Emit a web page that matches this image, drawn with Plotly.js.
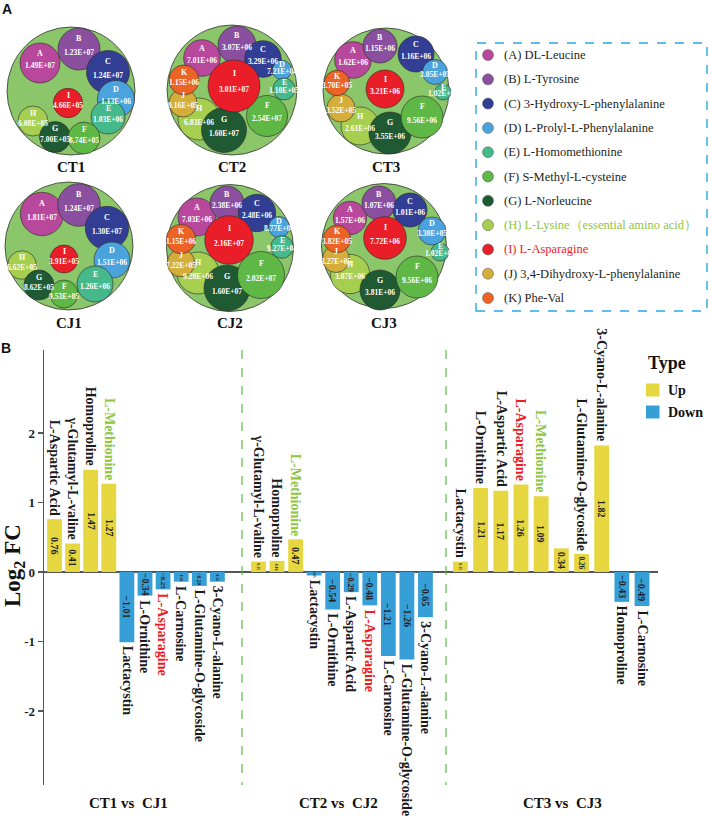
<!DOCTYPE html>
<html><head><meta charset="utf-8">
<script src="https://cdn.plot.ly/plotly-3.0.1.min.js"></script>
<style>body{margin:0;background:#fff}#chart{width:709px;height:822px}</style>
</head><body><div id="chart"></div>
<script>
// ---------------- DATA ----------------
// Panel A
const packNames = ["CT1","CT2","CT3","CJ1","CJ2","CJ3"];
const letters = ["A","B","C","D","E","F","G","H","I","J","K"];
const compounds = ["DL-Leucine","L-Tyrosine","3-Hydroxy-L-phenylalanine","L-Prolyl-L-Phenylalanine","L-Homomethionine","S-Methyl-L-cysteine","L-Norleucine","L-Lysine（essential amino acid）","L-Asparagine","3,4-Dihydroxy-L-phenylalanine","Phe-Val"];
const valsCT1 = [1.49e7,1.23e7,1.24e7,1.13e6,1.03e6,8.74e5,7.00e5,6.08e5,4.66e5,null,null];
const valsCT2 = [7.01e6,3.07e6,3.29e6,7.21e4,1.10e5,2.54e7,1.60e7,6.83e6,3.01e7,9.16e5,1.15e6];
const valsCT3 = [1.62e6,1.15e6,1.16e6,3.05e5,1.02e4,9.56e6,3.55e6,2.61e6,3.21e6,3.52e5,3.70e5];
const valsCJ1 = [1.81e7,1.24e7,1.30e7,1.51e6,1.26e6,9.53e5,8.62e5,6.62e5,3.91e5,null,null];
const valsCJ2 = [7.03e6,2.38e6,2.48e6,8.77e4,9.27e4,2.02e7,1.60e7,9.28e6,2.16e7,7.22e5,1.15e6];
const valsCJ3 = [1.57e6,1.07e6,1.01e6,3.30e5,1.02e4,9.56e6,3.81e6,3.07e6,7.72e6,3.27e5,3.82e5];

// Panel B
const groupLabels = ["CT1 vs\u00A0 CJ1","CT2 vs\u00A0 CJ2","CT3 vs\u00A0 CJ3"];
const names1 = ["L-Aspartic Acid","γ-Glutamyl-L-valine","Homoproline","L-Methionine","Lactacystin","L-Ornithine","L-Asparagine","L-Carnosine","L-Glutamine-O-glycoside","3-Cyano-L-alanine"];
const vals1 = [0.76,0.41,1.47,1.27,-1.01,-0.34,-0.25,-0.14,-0.20,-0.14];
const names2 = ["γ-Glutamyl-L-valine","Homoproline","L-Methionine","Lactacystin","L-Ornithine","L-Aspartic Acid","L-Asparagine","L-Carnosine","L-Glutamine-O-glycoside","3-Cyano-L-alanine"];
const vals2 = [0.15,0.16,0.47,-0.05,-0.54,-0.29,-0.48,-1.21,-1.26,-0.65];
const names3 = ["Lactacystin","L-Ornithine","L-Aspartic Acid","L-Asparagine","L-Methionine","","L-Glutamine-O-glycoside","3-Cyano-L-alanine","Homoproline","L-Carnosine"];
const vals3 = [0.15,1.21,1.17,1.26,1.09,0.34,0.26,1.82,-0.43,-0.49];
const yTicks = [-2,-1,0,1,2];
const yTickText = ["-2","-1","0","1","2"];
const typeNames = ["Up","Down"];

// ---------------- LAYOUT / STYLE ----------------
const W = 709, H = 822;
const FONT = "Liberation Serif";
const P = x => x / W, Q = y => 1 - y / H;
const circleColors = ["#B8489C","#8A4F9F","#323E94","#4BA3DE","#45B98B","#5FB745","#1F5A32","#A6CE4F","#E91E29","#D4AD3A","#EC6425"];
const outerColor = "#8CC66B";
const upColor = "#E6D640", downColor = "#379FD8";
const nameColor = n => n === "L-Methionine" ? "#8DC63F" : (n === "L-Asparagine" ? "#ED1C24" : "#1a1a1a");

// pack centre + radius (px)
const packGeom = [[71,91,64],[232,90,65],[386,91,63],[69,246,64],[230,248,63.5],[384,246,62.5]];
const packLabelY = [167,167,167,323,323,323];
// circle offsets (dx,dy,r) from pack centre, order A..K
const packCircles = [
  [[-31,-28,20],[8,-42,21],[37,-19,21.5],[45,8,18.5],[37,26,17],[13,47,16],[-16,46,15.5],[-38,30,15],[-3,12,14.7],null,null],
  [[-30,-32,18.3],[5,-45,19],[31,-31,18.3],[50,-20,9.7],[52,-1,11],[35,26,20.5],[-8,40,22.5],[-33,29,21],[2,-4,26],[-49,13,14],[-48,-10,15]],
  [[-33,-31,18.3],[-6,-45,17],[30,-37,18],[49,-19,12.5],[57,1,8],[36,26,21],[4,42,21],[-26,35,19],[-1,-2,19],[-45,17,14],[-49,-8,12.7]],
  [[-27,-32,21.7],[10,-41,21.3],[38,-18,21.7],[43,14,18],[26,38,18],[-5,48,14],[-30,39,15],[-47,19,14.3],[-5,13,14],null,null],
  [[-33,-31,19],[-3,-45,17],[27,-35,18.7],[49,-21,10.5],[52,-1,11.3],[31,27,23.5],[-3,40,23],[-32,25,21],[-1,-8,24.3],[-49,15,13.8],[-49,-9,14.7]],
  [[-34,-28,16.7],[-5,-43,17],[26,-36,17],[48,-15,14],[56,6,9],[33,31,21],[-4,44,20],[-34,28,19.7],[1,-8,21.3],[-48,13,13.5],[-47,-7,13.7]]
];
const drawOrder = [0,1,2,3,4,7,6,5,9,10,8];

// panel B geometry (px): [domainLeft, domainRight, firstBarCentre, barSpacing, groupLabelCentre]
const groupPx = [[44,242,54.5,18.1,128],[242,446,258.5,18.55,338],[446,658,460.5,20.17,562]];
const yTopPx = 350, yBotPx = 785, yZeroPx = 572, pxPerUnit = 69.5;
const barPx = 14.8;

// ---------------- BUILD ----------------
function fmtE(v){const s=v.toExponential(2).split('e');const e=parseInt(s[1],10);return s[0]+'E'+(e<0?'-':'+')+String(Math.abs(e)).padStart(2,'0');}
function fmtB(v){const s=Math.abs(v).toFixed(2);return v<0?'\u2212'+s:s;}
// inside label size shrinks with bar length, as in the reference
function barFont(v){const len=Math.abs(v)*pxPerUnit;return Math.max(3,Math.min(10,(len-2)/2.2));}

const shapes = [], annotations = [], traces = [];
const packVals = [valsCT1,valsCT2,valsCT3,valsCJ1,valsCJ2,valsCJ3];

annotations.push({xref:'paper',yref:'paper',x:P(7),y:Q(9),text:'A',showarrow:false,xanchor:'center',yanchor:'middle',font:{family:'Liberation Sans',size:14,weight:'bold',color:'#111'}});
annotations.push({xref:'paper',yref:'paper',x:P(6),y:Q(348),text:'B',showarrow:false,xanchor:'center',yanchor:'middle',font:{family:'Liberation Sans',size:14,weight:'bold',color:'#111'}});

packNames.forEach((pn, p) => {
  const [cx, cy, R] = packGeom[p];
  shapes.push({type:'circle',xref:'paper',yref:'paper',x0:P(cx-R),x1:P(cx+R),y0:Q(cy+R),y1:Q(cy-R),fillcolor:outerColor,line:{color:'#333',width:0.8},layer:'above'});
  drawOrder.forEach(k => {
    const c = packCircles[p][k]; const v = packVals[p][k];
    if (!c || v == null) return;
    const x = cx + c[0], y = cy + c[1], r = c[2];
    shapes.push({type:'circle',xref:'paper',yref:'paper',x0:P(x-r),x1:P(x+r),y0:Q(y+r),y1:Q(y-r),fillcolor:circleColors[k],line:{color:'#2a2a2a',width:0.6},layer:'above'});
  });
  letters.forEach((L, k) => {
    const c = packCircles[p][k]; const v = packVals[p][k];
    if (!c || v == null) return;
    const x = cx + c[0], y = cy + c[1], r = c[2];
    annotations.push({xref:'paper',yref:'paper',x:P(x),y:Q(y-0.42*r-1.5),text:L,showarrow:false,xanchor:'center',yanchor:'middle',font:{family:FONT,size:8,weight:'bold',color:'#fff'}});
    annotations.push({xref:'paper',yref:'paper',x:P(x),y:Q(y+0.12*r+0.5),text:fmtE(v),showarrow:false,xanchor:'center',yanchor:'middle',font:{family:FONT,size:7.5,weight:'bold',color:'#fff'}});
  });
  annotations.push({xref:'paper',yref:'paper',x:P(cx),y:Q(packLabelY[p]),text:pn,showarrow:false,xanchor:'center',yanchor:'middle',font:{family:FONT,size:15,weight:'bold',color:'#111'}});
});

// panel A legend
shapes.push({type:'rect',xref:'paper',yref:'paper',x0:P(476),x1:P(707),y0:Q(311),y1:Q(43),line:{color:'#29ABE2',width:1.4,dash:'dash'},fillcolor:'rgba(0,0,0,0)',layer:'above'});
compounds.forEach((nm, k) => {
  const y = 55 + k * 24.3;
  shapes.push({type:'circle',xref:'paper',yref:'paper',x0:P(482.5),x1:P(493.5),y0:Q(y+5.5),y1:Q(y-5.5),fillcolor:circleColors[k],line:{color:'#555',width:0.5},layer:'above'});
  const col = k === 7 ? '#8DC63F' : (k === 8 ? '#ED1C24' : '#231F20');
  annotations.push({xref:'paper',yref:'paper',x:P(502),y:Q(y),text:'('+letters[k]+') '+nm,showarrow:false,xanchor:'left',yanchor:'middle',font:{family:FONT,size:12.5,color:col}});
});

// panel B
const groups = [[names1,vals1],[names2,vals2],[names3,vals3]];
const layoutAxes = {};
groups.forEach((g, gi) => {
  const [names, vals] = g;
  const [l, r, c0, s, lc] = groupPx[gi];
  const xa = gi === 0 ? 'x' : 'x' + (gi + 1);
  layoutAxes[gi === 0 ? 'xaxis' : 'xaxis' + (gi + 1)] = {domain:[P(l),P(r)],range:[(l-c0)/s,(r-c0)/s],visible:false,anchor:'y',fixedrange:true,automargin:false};
  [true,false].forEach(up => {
    const xs = [], ys = [];
    vals.forEach((v, i) => { if ((v > 0) === up) { xs.push(i); ys.push(v); } });
    traces.push({type:'bar',x:xs,y:ys,xaxis:xa,yaxis:'y',name:up?typeNames[0]:typeNames[1],width:barPx/s,
      marker:{color:up?upColor:downColor,line:{width:0}},cliponaxis:false,hoverinfo:'skip',showlegend:false});
  });
  vals.forEach((v, i) => {
    // value inside the bar
    annotations.push({xref:xa,yref:'y',x:i,y:v/2,text:fmtB(v),textangle:90,showarrow:false,xanchor:'center',yanchor:'middle',borderpad:0,
      font:{family:FONT,size:barFont(v),weight:'bold',color:'#222'}});
    if (!names[i]) return;
    annotations.push({xref:xa,yref:'y',x:i,y:v,text:names[i],textangle:90,showarrow:false,xanchor:'center',yanchor:v>0?'bottom':'top',yshift:v>0?2:-2,
      font:{family:FONT,size:14,weight:'bold',color:nameColor(names[i])}});
  });
  annotations.push({xref:'paper',yref:'paper',x:P(lc),y:Q(803),text:groupLabels[gi],showarrow:false,xanchor:'center',yanchor:'middle',font:{family:FONT,size:15,weight:'bold',color:'#111'}});
  if (gi > 0) shapes.push({type:'line',xref:'paper',yref:'paper',x0:P(l),x1:P(l),y0:Q(yTopPx),y1:Q(yBotPx),line:{color:'#5DBB46',width:1.2,dash:'dash'},layer:'above'});
});

// y title
annotations.push({xref:'paper',yref:'paper',x:P(14),y:Q(566),text:'Log<sub>2</sub> FC',textangle:-90,showarrow:false,xanchor:'center',yanchor:'middle',font:{family:FONT,size:23,weight:'bold',color:'#111'}});

// Type legend
annotations.push({xref:'paper',yref:'paper',x:P(646),y:Q(363),text:'Type',showarrow:false,xanchor:'left',yanchor:'middle',font:{family:FONT,size:18,weight:'bold',color:'#111'}});
[[upColor,typeNames[0],390],[downColor,typeNames[1],412]].forEach(([c,t,y]) => {
  shapes.push({type:'rect',xref:'paper',yref:'paper',x0:P(646),x1:P(659.5),y0:Q(y+6.5),y1:Q(y-6.5),fillcolor:c,line:{width:0},layer:'above'});
  annotations.push({xref:'paper',yref:'paper',x:P(666),y:Q(y),text:t,showarrow:false,xanchor:'left',yanchor:'middle',font:{family:FONT,size:14,weight:'bold',color:'#111'}});
});

const layout = Object.assign({
  width:W,height:H,margin:{l:0,r:0,t:0,b:0,pad:0},paper_bgcolor:'#fff',plot_bgcolor:'rgba(0,0,0,0)',
  showlegend:false,barmode:'overlay',hovermode:false,
  yaxis:{domain:[Q(yBotPx),Q(yTopPx)],range:[(yZeroPx-yBotPx)/pxPerUnit,(yZeroPx-yTopPx)/pxPerUnit],anchor:'x',automargin:false,
    tickvals:yTicks,ticktext:yTickText,ticks:'outside',ticklen:5,tickwidth:1.3,tickcolor:'#555',showline:true,linecolor:'#555',linewidth:1.3,
    zeroline:true,zerolinecolor:'#555',zerolinewidth:1.3,showgrid:false,fixedrange:true,
    tickfont:{family:FONT,size:13,weight:'bold',color:'#222'}},
  shapes:shapes,annotations:annotations,font:{family:FONT}
}, layoutAxes);

Plotly.newPlot('chart', traces, layout, {staticPlot:true,displayModeBar:false});
</script></body></html>
